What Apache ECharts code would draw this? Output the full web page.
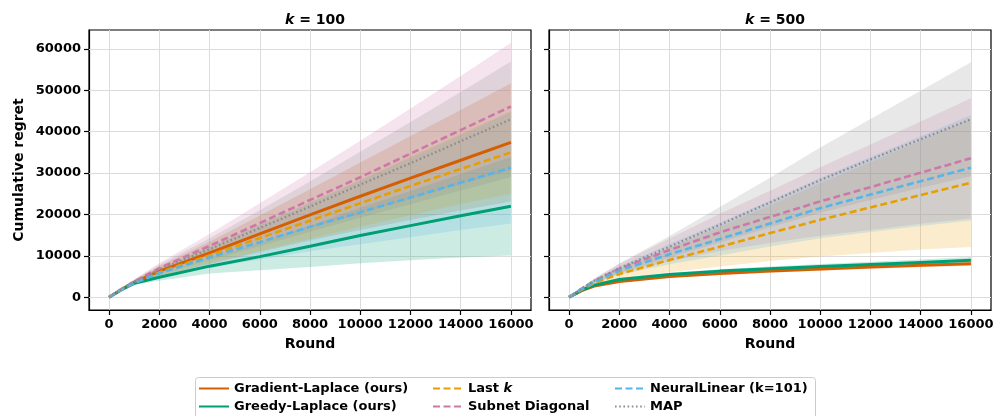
<!DOCTYPE html>
<html>
<head>
<meta charset="utf-8">
<script src="https://cdn.jsdelivr.net/npm/echarts@6/dist/echarts.min.js"></script>
<style>html,body{margin:0;padding:0;background:#fff}#c{width:997px;height:416px}</style>
</head>
<body>
<div id="c"></div>
<script>
// ---------- data ----------
const rounds = [0, 500, 1000, 2000, 4000, 6000, 8000, 10000, 12000, 14000, 16000];
const xTicks = [0, 2000, 4000, 6000, 8000, 10000, 12000, 14000, 16000];
const yTicks = [0, 10000, 20000, 30000, 40000, 50000, 60000];
const panelTitles = ['100', '500'];
const seriesNames = ['Gradient-Laplace (ours)', 'Greedy-Laplace (ours)', 'Last k', 'Subnet Diagonal', 'NeuralLinear (k=101)', 'MAP'];

// k = 100
const gradL      = [0, 1900, 3600, 6300, 10700, 15300, 19900, 24400, 28800, 33100, 37450];
const gradLStd   = [0, 230, 510, 1190, 2720, 4430, 6220, 8150, 10150, 12150, 14300];
const greedyL    = [0, 1800, 3350, 4800, 7500, 9800, 12300, 14900, 17300, 19700, 22000];
const greedyLStd = [0, 150, 350, 800, 1800, 3300, 5000, 6700, 8400, 10100, 11900];
const lastkL     = [0, 1850, 3500, 6000, 10100, 14300, 18500, 22700, 26900, 31000, 35000];
const lastkLStd  = [0, 160, 360, 830, 1900, 3100, 4350, 5700, 7100, 8500, 10000];
const subnetL    = [0, 2000, 3800, 7000, 12400, 17900, 23500, 29000, 34700, 40400, 46100];
const subnetLStd = [0, 250, 550, 1280, 2900, 4800, 6700, 8800, 10900, 13100, 15400];
const nlL        = [0, 1850, 3450, 5800, 9600, 13300, 17000, 20500, 24100, 27700, 31300];
const nlLStd     = [0, 220, 490, 1120, 2570, 4190, 5870, 7700, 9590, 11480, 13500];
const mapL       = [0, 1950, 3700, 6700, 11600, 16700, 21900, 27200, 32400, 37700, 43000];
const mapLStd    = [0, 220, 500, 1160, 2660, 4340, 6090, 7980, 9940, 11900, 14000];

// k = 500
const gradR      = [0, 1600, 2700, 3800, 5000, 5700, 6300, 6800, 7300, 7700, 8100];
const gradRStd   = [0, 80, 150, 250, 300, 350, 400, 420, 450, 480, 500];
const greedyR    = [0, 1700, 2900, 4300, 5500, 6300, 6900, 7400, 7900, 8400, 8900];
const greedyRStd = [0, 100, 200, 300, 400, 450, 500, 600, 650, 700, 800];
const lastkR     = [0, 1850, 3400, 5600, 9000, 12200, 15500, 18700, 21700, 24700, 27650];
const lastkRStd  = [0, 250, 560, 1290, 2950, 4810, 6740, 8840, 11000, 13180, 15500];
const subnetR    = [0, 2050, 3900, 6900, 11400, 15660, 19400, 23150, 26600, 30100, 33570];
const subnetRStd = [0, 230, 520, 1210, 2760, 4510, 6330, 8290, 10330, 12370, 14550];
const nlR        = [0, 1950, 3700, 6400, 10400, 14050, 17800, 21530, 24800, 28050, 31300];
const nlRStd     = [0, 200, 460, 1060, 2430, 3960, 5550, 7280, 9070, 10850, 12770];
const mapR       = [0, 2100, 4000, 7000, 12200, 17500, 22900, 28300, 33300, 38200, 43030];
const mapRStd    = [0, 220, 500, 1150, 2620, 4280, 6000, 7870, 9800, 11730, 13800];

// ---------- styling ----------
const FONT = 'DejaVu Sans';
const colors = ['#d55e00', '#009e73', '#e69f00', '#cc79a7', '#56b4e9', '#8c8c8c'];
const lineTypes = ['solid', 'solid', [7, 3.5], [7, 3.5], [7, 3.5], [1.6, 2.6]];
const lineWidths = [3, 3, 2.6, 2.6, 2.6, 2.3];

const panels = [
  { means: [gradL, greedyL, lastkL, subnetL, nlL, mapL], stds: [gradLStd, greedyLStd, lastkLStd, subnetLStd, nlLStd, mapLStd] },
  { means: [gradR, greedyR, lastkR, subnetR, nlR, mapR], stds: [gradRStd, greedyRStd, lastkRStd, subnetRStd, nlRStd, mapRStd] }
];

const gridPos = [
  { left: 89, top: 30, width: 442, height: 280 },
  { left: 549, top: 30, width: 442, height: 280 }
];

const chart = echarts.init(document.getElementById('c'), null, { renderer: 'canvas' });

const grids = gridPos.map(g => Object.assign({ show: true, borderColor: '#000', borderWidth: 1.2, backgroundColor: 'transparent' }, g));

const plain = v => String(v);

const xAxes = gridPos.map((g, i) => ({
  type: 'value', gridIndex: i, min: -800, max: 16800,
  axisLine: { show: true, onZero: false, lineStyle: { color: '#000', width: 1.2 } },
  axisTick: { show: true, customValues: xTicks, length: 5, lineStyle: { color: '#000', width: 1.2 } },
  axisLabel: { customValues: xTicks, formatter: plain, color: '#000', fontFamily: FONT, fontWeight: 'bold', fontSize: 13, margin: 8 },
  splitLine: { show: false },
  name: 'Round', nameLocation: 'middle', nameGap: 27,
  nameTextStyle: { color: '#000', fontFamily: FONT, fontWeight: 'bold', fontSize: 14 }
}));

const yAxes = gridPos.map((g, i) => ({
  type: 'value', gridIndex: i, min: -3100, max: 64600,
  axisLine: { show: true, onZero: false, lineStyle: { color: '#000', width: 1.2 } },
  axisTick: { show: true, customValues: yTicks, length: 5, lineStyle: { color: '#000', width: 1.2 } },
  axisLabel: { show: i === 0, customValues: yTicks, formatter: plain, color: '#000', fontFamily: FONT, fontWeight: 'bold', fontSize: 13, margin: 8 },
  splitLine: { show: false },
  name: i === 0 ? 'Cumulative regret' : '', nameLocation: 'middle', nameGap: 63,
  nameTextStyle: { color: '#000', fontFamily: FONT, fontWeight: 'bold', fontSize: 14 }
}));

const series = [];

// grid lines via markLine through the axes' scales
panels.forEach((p, pi) => {
  series.push({
    type: 'line', name: 'gridlines' + pi, xAxisIndex: pi, yAxisIndex: pi,
    data: [], silent: true, z: 1,
    markLine: {
      silent: true, symbol: 'none', z: 1, animation: false,
      label: { show: false },
      lineStyle: { color: '#dcdcdc', width: 1, type: 'solid' },
      data: xTicks.map(v => ({ xAxis: v })).concat(yTicks.map(v => ({ yAxis: v })))
    }
  });
});

// bands
panels.forEach((p, pi) => {
  p.means.forEach((m, si) => {
    const sd = p.stds[si];
    const data = rounds.map((r, k) => [r, m[k] - sd[k], m[k] + sd[k]]);
    series.push({
      type: 'custom', name: 'band' + pi + '_' + si, xAxisIndex: pi, yAxisIndex: pi,
      silent: true, z: 2, clip: true,
      encode: { x: 0, y: [1, 2] },
      data: data,
      renderItem: function (params, api) {
        if (params.dataIndex !== 0) return null;
        const pts = [];
        for (let k = 0; k < data.length; k++) pts.push(api.coord([data[k][0], data[k][2]]));
        for (let k = data.length - 1; k >= 0; k--) pts.push(api.coord([data[k][0], data[k][1]]));
        return { type: 'polygon', shape: { points: pts }, style: { fill: colors[si], opacity: 0.2 } };
      }
    });
  });
});

// mean lines
panels.forEach((p, pi) => {
  p.means.forEach((m, si) => {
    series.push({
      type: 'line', name: seriesNames[si], xAxisIndex: pi, yAxisIndex: pi,
      data: rounds.map((r, k) => [r, m[k]]),
      symbol: 'none', showSymbol: false, z: 3, silent: true,
      color: colors[si],
      lineStyle: { color: colors[si], width: lineWidths[si], type: lineTypes[si], cap: 'butt' }
    });
  });
});

const legendCols = [[0, 1], [2, 3], [4, 5]];
const legendLeft = [198, 432, 614];
const legends = legendCols.map((col, ci) => ({
  orient: 'vertical', left: legendLeft[ci], top: 382, padding: 0,
  itemWidth: 30, itemHeight: 14, itemGap: 5,
  selectedMode: false,
  itemStyle: { opacity: 0 },
  data: col.map(i => seriesNames[i]),
  formatter: function (name) { return name === 'Last k' ? 'Last {i|k}' : name; },
  textStyle: { color: '#000', fontFamily: FONT, fontWeight: 'bold', fontSize: 13,
    rich: { i: { fontStyle: 'italic', fontWeight: 'bold', fontFamily: FONT, fontSize: 13, color: '#000' } } }
}));

const titles = panelTitles.map((t, i) => ({
  text: '{i|k} = ' + t,
  left: gridPos[i].left + gridPos[i].width / 2, top: 8, textAlign: 'center',
  textStyle: {
    color: '#000', fontFamily: FONT, fontWeight: 'bold', fontSize: 14,
    rich: { i: { fontStyle: 'italic', fontWeight: 'bold', fontFamily: FONT, fontSize: 14, color: '#000' } }
  }
}));

chart.setOption({
  animation: false,
  backgroundColor: '#fff',
  title: titles,
  grid: grids,
  xAxis: xAxes,
  yAxis: yAxes,
  legend: legends,
  graphic: [{
    type: 'rect', left: 195, top: 377, z: 0, silent: true,
    shape: { width: 620, height: 60, r: 3 },
    style: { fill: '#fff', stroke: '#cccccc', lineWidth: 1 }
  }],
  series: series
});
</script>
</body>
</html>
